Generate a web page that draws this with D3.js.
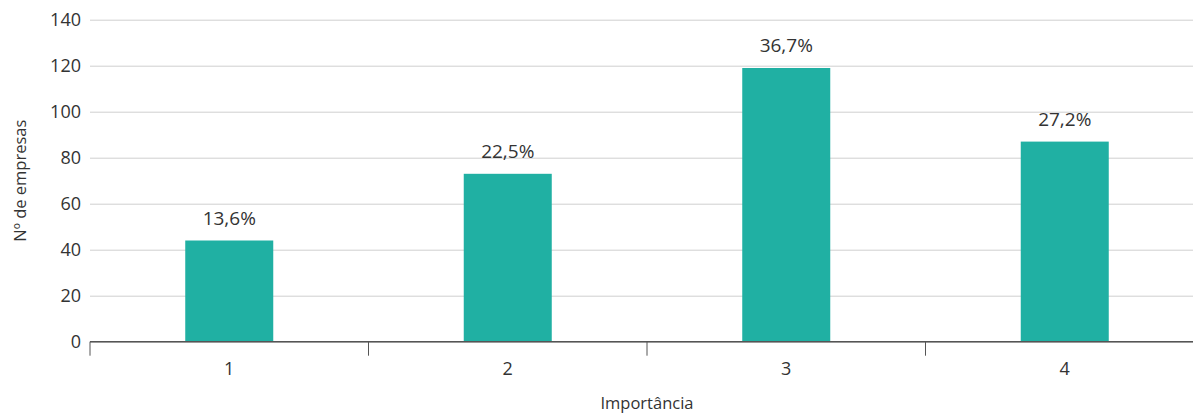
<!DOCTYPE html>
<html>
<head>
<meta charset="utf-8">
<script src="https://cdn.jsdelivr.net/npm/d3@7"></script>
<style>
  html, body { margin: 0; padding: 0; background: #fff; }
  svg { display: block; font-family: "Open Sans", sans-serif; }
  text { fill: #333; }
</style>
</head>
<body>
<svg id="chart" width="1193" height="414"></svg>
<script>
// Number of companies by importance level
const categories = ["1", "2", "3", "4"];
const counts = [44, 73, 119, 87];
const shares = ["13,6%", "22,5%", "36,7%", "27,2%"];
const yTicks = [0, 20, 40, 60, 80, 100, 120, 140];

const svg = d3.select("#chart");
const plotLeft = 90, plotRight = 1204, plotTop = 19.7, plotBottom = 341.7;

const x = d3.scaleBand()
  .domain(categories)
  .range([plotLeft, plotRight])
  .paddingInner(0.684)
  .paddingOuter(0.342);

const y = d3.scaleLinear().domain([0, 140]).range([plotBottom, plotTop]);

// horizontal gridlines and value labels
const yAxis = svg.append("g")
  .attr("transform", `translate(${plotLeft},0)`)
  .call(d3.axisLeft(y).tickValues(yTicks).tickSize(-(plotRight - plotLeft)).tickPadding(9));
yAxis.select(".domain").remove();
yAxis.selectAll(".tick line").attr("stroke", "#cfcfcf").attr("stroke-width", 1);
yAxis.selectAll(".tick text")
  .attr("font-size", 18)
  .attr("font-family", "Open Sans, sans-serif")
  .attr("fill", "#333");

// bars
svg.append("g").selectAll("rect")
  .data(categories)
  .join("rect")
  .attr("x", d => x(d))
  .attr("width", x.bandwidth())
  .attr("y", (d, i) => y(counts[i]))
  .attr("height", (d, i) => y(0) - y(counts[i]))
  .attr("fill", "#20b0a3");

// percentage labels above bars
svg.append("g").selectAll("text")
  .data(categories)
  .join("text")
  .attr("x", d => x(d) + x.bandwidth() / 2)
  .attr("y", (d, i) => y(counts[i]) - 16)
  .attr("text-anchor", "middle")
  .attr("font-size", 19)
  .text((d, i) => shares[i]);

// category axis with ticks on band boundaries
const xAxis = svg.append("g");
xAxis.append("line")
  .attr("x1", plotLeft).attr("x2", plotRight)
  .attr("y1", y(0)).attr("y2", y(0))
  .attr("stroke", "#555").attr("stroke-width", 1.5);
xAxis.selectAll("line.tk")
  .data(categories)
  .join("line")
  .attr("class", "tk")
  .attr("x1", d => x(d) + x.bandwidth() / 2 - x.step() / 2)
  .attr("x2", d => x(d) + x.bandwidth() / 2 - x.step() / 2)
  .attr("y1", y(0)).attr("y2", y(0) + 14)
  .attr("stroke", "#555").attr("stroke-width", 1);
xAxis.selectAll("text")
  .data(categories)
  .join("text")
  .attr("x", d => x(d) + x.bandwidth() / 2)
  .attr("y", y(0) + 33)
  .attr("text-anchor", "middle")
  .attr("font-size", 18)
  .text(d => d);

// axis titles
svg.append("text")
  .attr("x", (plotLeft + plotRight) / 2)
  .attr("y", 409)
  .attr("text-anchor", "middle")
  .attr("font-size", 16.5)
  .text("Importância");

svg.append("text")
  .attr("transform", `translate(26,${(plotTop + plotBottom) / 2}) rotate(-90)`)
  .attr("text-anchor", "middle")
  .attr("font-size", 16.5)
  .text("Nº de empresas");
</script>
</body>
</html>
